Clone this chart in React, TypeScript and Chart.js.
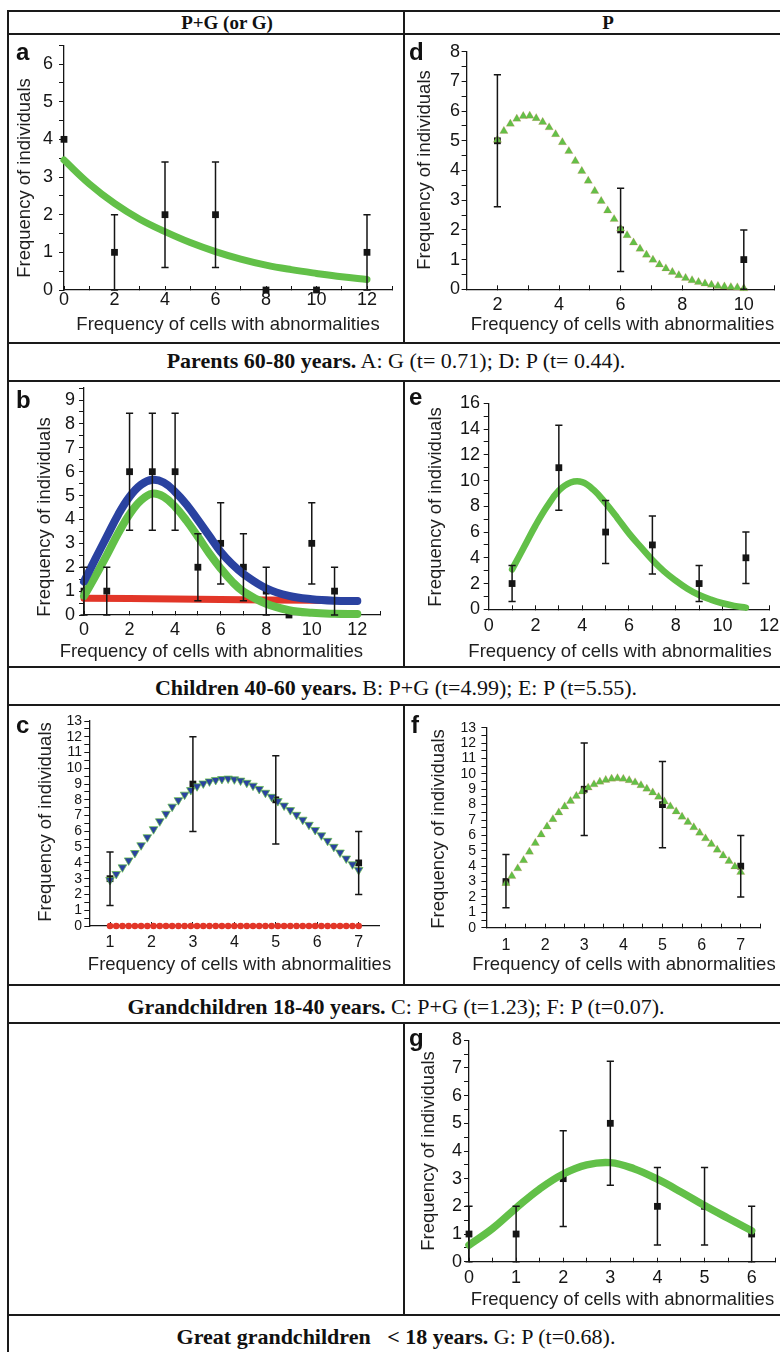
import React, { useEffect, useRef } from 'react';
import { Chart, registerables } from 'chart.js';

Chart.register(...registerables);

const SANS = '"Liberation Sans", Arial, Helvetica, sans-serif';
const SERIF = '"Liberation Serif", "Times New Roman", Times, serif';
const INK = '#151515';
const GREEN = 'rgb(98,192,72)';
const BLUE = 'rgb(42,66,160)';
const RED = 'rgb(226,54,40)';

// ---------- Panel a (P+G or G), parents ----------
const A_X = [0, 2, 4, 6, 8, 10, 12];
const A_Y = [4, 1, 2, 2, 0, 0, 1];
const A_LO = [4, 0, 0.6, 0.6, 0, 0, 0];
const A_HI = [4, 2, 3.4, 3.4, 0, 0, 2];
const A_FIT_X = [0, 1, 2, 3, 4, 5, 6, 7, 8, 9, 10, 11, 12];
const A_FIT_Y = [3.45, 2.82, 2.3, 1.88, 1.55, 1.26, 1.02, 0.82, 0.66, 0.54, 0.44, 0.35, 0.28];

// ---------- Panel d (P), parents ----------
const D_X = [2, 6, 10];
const D_Y = [5, 2, 1];
const D_LO = [2.78, 0.6, 0];
const D_HI = [7.22, 3.4, 2];
const D_FIT_X = [2.0, 2.21, 2.42, 2.63, 2.84, 3.05, 3.26, 3.47, 3.68, 3.89, 4.11, 4.32, 4.53, 4.74, 4.95, 5.16, 5.37, 5.58, 5.79, 6.0,
  6.21, 6.42, 6.63, 6.84, 7.05, 7.26, 7.47, 7.68, 7.89, 8.11, 8.32, 8.53, 8.74, 8.95, 9.16, 9.37, 9.58, 9.79, 10.0];
const D_FIT_Y = [5.03, 5.33, 5.57, 5.74, 5.83, 5.84, 5.76, 5.63, 5.45, 5.22, 4.95, 4.65, 4.32, 3.98, 3.65, 3.31, 2.97, 2.65, 2.36, 2.04,
  1.82, 1.57, 1.36, 1.16, 0.99, 0.83, 0.7, 0.58, 0.47, 0.38, 0.3, 0.24, 0.19, 0.15, 0.11, 0.09, 0.07, 0.06, 0.03];

// ---------- Panel b (P+G), children ----------
const B_X = [0, 1, 2, 3, 4, 5, 6, 7, 8, 9, 10, 11];
const B_Y = [1, 1, 6, 6, 6, 2, 3, 2, 1, 0, 3, 1];
const B_LO = [0, 0, 3.55, 3.55, 3.55, 0.6, 1.3, 0.6, 0, 0, 1.3, 0];
const B_HI = [2, 2, 8.45, 8.45, 8.45, 3.4, 4.7, 3.4, 2, 0, 4.7, 2];
const B_FIT_X = [0, 0.5, 1, 1.5, 2, 2.5, 3, 3.5, 4, 4.5, 5, 5.5, 6, 6.5, 7, 8, 9, 10, 11, 12];
const B_TOTAL_Y = [1.4, 2.35, 3.28, 4.2, 4.95, 5.45, 5.66, 5.55, 5.16, 4.63, 3.98, 3.31, 2.65, 2.13, 1.72, 1.12, 0.8, 0.66, 0.6, 0.59];
const B_P_Y = [0.8, 1.63, 2.51, 3.42, 4.22, 4.8, 5.08, 4.95, 4.53, 3.95, 3.28, 2.58, 1.95, 1.4, 0.98, 0.47, 0.2, 0.09, 0.05, 0.04];
const B_G_X = [0, 4, 8, 12];
const B_G_Y = [0.7, 0.67, 0.63, 0.6];

// ---------- Panel e (P), children ----------
const E_X = [1, 3, 5, 7, 9, 11];
const E_Y = [2, 11, 6, 5, 2, 4];
const E_LO = [0.6, 7.7, 3.55, 2.75, 0.6, 2];
const E_HI = [3.4, 14.3, 8.45, 7.25, 3.4, 6];
const E_FIT_X = [1, 1.5, 2, 2.5, 3, 3.5, 4, 4.5, 5, 5.5, 6, 6.5, 7, 7.5, 8, 8.5, 9, 9.5, 10, 10.5, 11];
const E_FIT_Y = [3.1, 4.8, 6.5, 8.0, 9.22, 9.85, 9.88, 9.25, 8.24, 7.1, 5.9, 4.85, 3.83, 2.95, 2.23, 1.6, 1.11, 0.75, 0.47, 0.27, 0.13];

// ---------- Panel c (P+G), grandchildren ----------
const C_X = [1, 3, 5, 7];
const C_Y = [3, 9, 8, 4];
const C_LO = [1.3, 6, 5.2, 2];
const C_HI = [4.7, 12, 10.8, 6];
const C_XTICKS = [1, 2, 3, 4, 5, 6, 7];
const C_FIT_X = [1.0, 1.15, 1.3, 1.45, 1.6, 1.75, 1.9, 2.05, 2.2, 2.35, 2.5, 2.65, 2.8, 2.95, 3.1, 3.25, 3.4, 3.55, 3.7, 3.85,
  4.0, 4.15, 4.3, 4.45, 4.6, 4.75, 4.9, 5.05, 5.2, 5.35, 5.5, 5.65, 5.8, 5.95, 6.1, 6.25, 6.4, 6.55, 6.7, 6.85, 7.0];
const C_TOTAL_Y = [2.92, 3.3, 3.72, 4.16, 4.63, 5.12, 5.63, 6.14, 6.64, 7.12, 7.57, 7.98, 8.33, 8.62, 8.86, 9.04, 9.17, 9.26, 9.32, 9.35,
  9.3, 9.22, 9.08, 8.9, 8.69, 8.45, 8.19, 7.92, 7.64, 7.35, 7.05, 6.74, 6.42, 6.09, 5.75, 5.4, 5.02, 4.66, 4.28, 3.91, 3.55];
const C_G_Y = [0, 0, 0, 0, 0, 0, 0, 0, 0, 0, 0, 0, 0, 0, 0, 0, 0, 0, 0, 0,
  0, 0, 0, 0, 0, 0, 0, 0, 0, 0, 0, 0, 0, 0, 0, 0, 0, 0, 0, 0, 0];

// ---------- Panel f (P), grandchildren ----------
const F_X = [1, 3, 5, 7];
const F_Y = [3, 9, 8, 4];
const F_LO = [1.3, 6, 5.2, 2];
const F_HI = [4.75, 12, 10.8, 6];
const F_FIT_X = [1.0, 1.15, 1.3, 1.45, 1.6, 1.75, 1.9, 2.05, 2.2, 2.35, 2.5, 2.65, 2.8, 2.95, 3.1, 3.25, 3.4, 3.55, 3.7, 3.85,
  4.0, 4.15, 4.3, 4.45, 4.6, 4.75, 4.9, 5.05, 5.2, 5.35, 5.5, 5.65, 5.8, 5.95, 6.1, 6.25, 6.4, 6.55, 6.7, 6.85, 7.0];
const F_FIT_Y = [2.89, 3.35, 3.85, 4.38, 4.93, 5.5, 6.05, 6.57, 7.05, 7.48, 7.87, 8.23, 8.56, 8.85, 9.1, 9.31, 9.48, 9.6, 9.68, 9.71,
  9.67, 9.58, 9.44, 9.25, 9.03, 8.78, 8.5, 8.2, 7.88, 7.55, 7.21, 6.87, 6.52, 6.17, 5.8, 5.43, 5.06, 4.69, 4.33, 3.97, 3.62];

// ---------- Panel g (P), great grandchildren ----------
const G_X = [0, 1, 2, 3, 4, 5, 6];
const G_Y = [1, 1, 3, 5, 2, 2, 1];
const G_LO = [0, 0, 1.27, 2.76, 0.6, 0.6, 0];
const G_HI = [2, 2, 4.73, 7.24, 3.4, 3.4, 2];
const G_FIT_X = [0, 0.5, 1, 1.5, 2, 2.5, 3, 3.5, 4, 4.5, 5, 5.5, 6];
const G_FIT_Y = [0.6, 1.2, 1.94, 2.63, 3.17, 3.5, 3.58, 3.36, 2.98, 2.52, 2.03, 1.57, 1.12];

// ---------- Texts ----------
const X_TITLE = 'Frequency of cells with abnormalities';
const Y_TITLE = 'Frequency of individuals';
const HEAD_LEFT = 'P+G (or G)';
const HEAD_RIGHT = 'P';
const CAPTIONS = [
  { bold: 'Parents 60-80 years.', rest: ' A: G (t= 0.71); D: P (t= 0.44).', cy: 361 },
  { bold: 'Children 40-60 years.', rest: ' B: P+G (t=4.99); E: P (t=5.55).', cy: 688 },
  { bold: 'Grandchildren 18-40 years.', rest: ' C: P+G (t=1.23); F: P (t=0.07).', cy: 1007 },
  { bold: 'Great grandchildren   < 18 years.', rest: ' G: P (t=0.68).', cy: 1337 },
];

const pts = (xs: number[], ys: number[]) => xs.map((x, i) => ({ x, y: ys[i] }));

const lineDs = (xs: number[], ys: number[], color: string, width: number) => ({
  data: pts(xs, ys), showLine: true, borderColor: color, borderWidth: width, pointRadius: 0,
  tension: 0.4, borderCapStyle: 'round', borderJoinStyle: 'round', clip: false, fill: false,
});
const markerDs = (xs: number[], ys: number[], style: string, radius: number, fillC: string, stroke: string, bw: number, rot = 0) => ({
  data: pts(xs, ys), showLine: false, pointStyle: style, pointRadius: radius, pointBackgroundColor: fillC,
  pointBorderColor: stroke, pointBorderWidth: bw, pointRotation: rot, clip: false,
});
const dataDs = (xs: number[], ys: number[]) => markerDs(xs, ys, 'rect', 4.8, INK, INK, 0);

const makeErrorBars = (xs: number[], lo: number[], hi: number[]) => ({
  id: 'errbars',
  afterDatasetsDraw(chart: any) {
    const ctx = chart.ctx;
    const sx = chart.scales.x;
    const sy = chart.scales.y;
    ctx.save();
    ctx.strokeStyle = INK;
    ctx.lineWidth = 1.5;
    for (let i = 0; i < xs.length; i++) {
      if (hi[i] - lo[i] <= 0) continue;
      const px = sx.getPixelForValue(xs[i]);
      const p1 = sy.getPixelForValue(lo[i]);
      const p2 = sy.getPixelForValue(hi[i]);
      ctx.beginPath();
      ctx.moveTo(px, p1); ctx.lineTo(px, p2);
      ctx.moveTo(px - 3.6, p1); ctx.lineTo(px + 3.6, p1);
      ctx.moveTo(px - 3.6, p2); ctx.lineTo(px + 3.6, p2);
      ctx.stroke();
    }
    ctx.restore();
  },
});

interface AxisCfg { min: number; max: number; step: number; every: number; font: number; ticks?: number[] }
interface PanelCfg {
  letter: string; letterLeft: number; letterBase: number;
  cell: number[]; area: number[];
  x: AxisCfg; y: AxisCfg;
  xLabelY: number; yLabelRight: number;
  xTitle: number[]; yTitle: number[];
  datasets: () => any[];
  err: number[][];
}

const PANELS: PanelCfg[] = [
  {
    letter: 'a', letterLeft: 16, letterBase: 60,
    cell: [9, 35, 403, 342], area: [64, 45.2, 392.25, 290],
    x: { min: 0, max: 13, step: 1, every: 2, font: 18 }, y: { min: 0, max: 6.5, step: 0.5, every: 1, font: 18 },
    xLabelY: 300, yLabelRight: 53, xTitle: [228, 323.7], yTitle: [23.7, 177.5],
    datasets: () => [lineDs(A_FIT_X, A_FIT_Y, GREEN, 7), dataDs(A_X, A_Y)],
    err: [A_X, A_LO, A_HI],
  },
  {
    letter: 'd', letterLeft: 409, letterBase: 60,
    cell: [405, 35, 780, 342], area: [466.6, 51.7, 777.8, 289.3],
    x: { min: 1, max: 11, step: 1, every: 2, font: 18 }, y: { min: 0, max: 8, step: 0.5, every: 1, font: 18 },
    xLabelY: 305, yLabelRight: 460, xTitle: [622.5, 323.7], yTitle: [424, 170],
    datasets: () => [markerDs(D_FIT_X, D_FIT_Y, 'triangle', 4.8, GREEN, 'rgba(226,90,60,0.3)', 0.6), dataDs(D_X, D_Y)],
    err: [D_X, D_LO, D_HI],
  },
  {
    letter: 'b', letterLeft: 16, letterBase: 408,
    cell: [9, 382, 403, 666], area: [84, 388.1, 380.1, 615],
    x: { min: 0, max: 13, step: 1, every: 2, font: 18 }, y: { min: 0, max: 9.5, step: 0.5, every: 1, font: 18 },
    xLabelY: 630, yLabelRight: 75, xTitle: [211.3, 651], yTitle: [44, 517],
    datasets: () => [
      lineDs(B_FIT_X, B_TOTAL_Y, BLUE, 8),
      lineDs(B_FIT_X, B_P_Y, GREEN, 8),
      lineDs(B_G_X, B_G_Y, RED, 7),
      dataDs(B_X, B_Y),
    ],
    err: [B_X, B_LO, B_HI],
  },
  {
    letter: 'e', letterLeft: 409, letterBase: 405,
    cell: [405, 382, 780, 666], area: [488.7, 403.3, 769.3, 609.3],
    x: { min: 0, max: 12, step: 1, every: 2, font: 18 }, y: { min: 0, max: 16, step: 1, every: 2, font: 18 },
    xLabelY: 626, yLabelRight: 480, xTitle: [620, 650.7], yTitle: [435, 507],
    datasets: () => [lineDs(E_FIT_X, E_FIT_Y, GREEN, 6.5), dataDs(E_X, E_Y)],
    err: [E_X, E_LO, E_HI],
  },
  {
    letter: 'c', letterLeft: 16, letterBase: 733,
    cell: [9, 706, 403, 984], area: [89.3, 721, 379.4, 926],
    x: { min: 0.5, max: 7.5, step: 1, every: 1, font: 16, ticks: C_XTICKS }, y: { min: 0, max: 13, step: 0.5, every: 1, font: 14 },
    xLabelY: 943, yLabelRight: 82, xTitle: [239.5, 963.7], yTitle: [45, 822],
    datasets: () => [
      markerDs(C_FIT_X, C_TOTAL_Y, 'triangle', 5, BLUE, 'rgba(100,190,72,0.9)', 0.8, 180),
      markerDs(C_FIT_X, C_G_Y, 'circle', 3.3, RED, RED, 0),
      dataDs(C_X, C_Y),
    ],
    err: [C_X, C_LO, C_HI],
  },
  {
    letter: 'f', letterLeft: 411, letterBase: 733,
    cell: [405, 706, 780, 984], area: [486.4, 727.7, 760.3, 927.7],
    x: { min: 0.5, max: 7.5, step: 0.5, every: 1, font: 16 }, y: { min: 0, max: 13, step: 0.5, every: 1, font: 14 },
    xLabelY: 946, yLabelRight: 476, xTitle: [624, 963.7], yTitle: [438, 828.5],
    datasets: () => [markerDs(F_FIT_X, F_FIT_Y, 'triangle', 4.8, GREEN, 'rgba(226,90,60,0.3)', 0.6), dataDs(F_X, F_Y)],
    err: [F_X, F_LO, F_HI],
  },
  {
    letter: 'g', letterLeft: 409, letterBase: 1046,
    cell: [405, 1024, 780, 1314], area: [469, 1040.3, 775.9, 1261.7],
    x: { min: 0, max: 6.5, step: 0.5, every: 1, font: 18 }, y: { min: 0, max: 8, step: 0.5, every: 1, font: 18 },
    xLabelY: 1278.5, yLabelRight: 462, xTitle: [622.5, 1298.7], yTitle: [428, 1151],
    datasets: () => [lineDs(G_FIT_X, G_FIT_Y, GREEN, 7.5), dataDs(G_X, G_Y)],
    err: [G_X, G_LO, G_HI],
  },
];

function Panel({ cfg }: { cfg: PanelCfg }) {
  const ref = useRef<HTMLCanvasElement | null>(null);
  const [L, T, R, B] = cfg.cell;
  const [aL, aT, aR, aB] = cfg.area;
  const W = R - L;
  const H = B - T;

  useEffect(() => {
    const canvas = ref.current;
    if (!canvas) return;
    const xTl = -4;
    const yTl = 5;
    const xPad = cfg.xLabelY - aB - xTl - (cfg.x.font * 1.2) / 2;
    const yPad = aL - cfg.yLabelRight - yTl;
    const mkTicks = (ax: AxisCfg, pad: number) => ({
      stepSize: ax.step, autoSkip: false, padding: pad,
      color: INK, maxRotation: 0, minRotation: 0,
      font: { family: SANS, size: ax.font, lineHeight: 1.2 },
      callback: (v: any) => {
        const r = Number(v) / ax.every;
        return Math.abs(r - Math.round(r)) < 1e-6 ? String(Math.round(Number(v) * 100) / 100) : '';
      },
    });
    const fixedTicks = (ax: AxisCfg) => (s: any) => {
      if (ax.ticks) s.ticks = ax.ticks.map((v) => ({ value: v }));
    };
    const zeroPad = (s: any) => { s.paddingLeft = 0; s.paddingRight = 0; s.paddingTop = 0; s.paddingBottom = 0; };
    const [ex, elo, ehi] = cfg.err;
    const chart = new Chart(canvas, {
      type: 'scatter',
      data: { datasets: cfg.datasets() },
      options: {
        responsive: false,
        animation: false,
        events: [],
        layout: { padding: { left: 0, top: aT - T, right: R - aR, bottom: 0 } },
        plugins: { legend: { display: false }, tooltip: { enabled: false } },
        scales: {
          x: {
            type: 'linear', position: 'bottom', min: cfg.x.min, max: cfg.x.max,
            ticks: mkTicks(cfg.x, xPad),
            afterBuildTicks: fixedTicks(cfg.x),
            grid: { display: true, drawOnChartArea: false, drawTicks: true, tickLength: xTl, tickColor: INK, tickWidth: 1 },
            border: { display: true, color: INK, width: 1.3 },
            afterFit: (s: any) => { s.height = B - aB; zeroPad(s); },
          },
          y: {
            type: 'linear', position: 'left', min: cfg.y.min, max: cfg.y.max,
            ticks: mkTicks(cfg.y, yPad),
            afterBuildTicks: fixedTicks(cfg.y),
            grid: { display: true, drawOnChartArea: false, drawTicks: true, tickLength: yTl, tickColor: INK, tickWidth: 1 },
            border: { display: true, color: INK, width: 1.3 },
            afterFit: (s: any) => { s.width = aL - L; zeroPad(s); },
          },
        },
      } as any,
      plugins: [makeErrorBars(ex, elo, ehi)],
    });
    return () => chart.destroy();
  }, []);

  const titleStyle: React.CSSProperties = {
    position: 'absolute', fontFamily: SANS, fontSize: 18.5, color: '#1e1e1e', lineHeight: '22px', height: 22,
    textAlign: 'center', whiteSpace: 'nowrap',
  };
  return (
    <>
      <canvas ref={ref} width={W} height={H} style={{ position: 'absolute', left: L, top: T, width: W, height: H }} />
      <div style={{ ...titleStyle, left: cfg.xTitle[0] - 200, top: cfg.xTitle[1] - 11, width: 400 }}>{X_TITLE}</div>
      <div style={{ ...titleStyle, left: cfg.yTitle[0] - 150, top: cfg.yTitle[1] - 11, width: 300, transform: 'rotate(-90deg)' }}>{Y_TITLE}</div>
      <div style={{ position: 'absolute', left: cfg.letterLeft, top: cfg.letterBase - 20.3, fontFamily: SANS, fontWeight: 'bold', fontSize: 24, lineHeight: '24px', color: '#111' }}>{cfg.letter}</div>
    </>
  );
}

const H_LINES = [10, 33, 342, 380, 666, 704, 984, 1022, 1314];
const V_MID = [[10, 344], [380, 668], [704, 986], [1022, 1316]];

export default function App() {
  return (
    <div style={{ position: 'absolute', left: 0, top: 0, width: 780, height: 1352, background: '#fff', overflow: 'hidden' }}>
      {H_LINES.map((y) => (
        <div key={'h' + y} style={{ position: 'absolute', left: 7, top: y, width: 780, height: 2, background: '#1a1a1a' }} />
      ))}
      <div style={{ position: 'absolute', left: 7, top: 10, width: 2, height: 1342, background: '#1a1a1a' }} />
      {V_MID.map(([a, b]) => (
        <div key={'v' + a} style={{ position: 'absolute', left: 403, top: a, width: 2, height: b - a, background: '#1a1a1a' }} />
      ))}
      <div style={{ position: 'absolute', left: 227 - 150, width: 300, top: 23 - 12, height: 24, lineHeight: '24px', textAlign: 'center', fontFamily: SERIF, fontWeight: 'bold', fontSize: 19, color: '#111' }}>{HEAD_LEFT}</div>
      <div style={{ position: 'absolute', left: 608 - 150, width: 300, top: 23 - 12, height: 24, lineHeight: '24px', textAlign: 'center', fontFamily: SERIF, fontWeight: 'bold', fontSize: 19, color: '#111' }}>{HEAD_RIGHT}</div>
      {CAPTIONS.map((c) => (
        <div key={c.bold} style={{ position: 'absolute', left: 0, width: 792, top: c.cy - 14, height: 28, lineHeight: '28px', textAlign: 'center', fontFamily: SERIF, fontSize: 22, color: '#111', whiteSpace: 'pre' }}>
          <b>{c.bold}</b>{c.rest}
        </div>
      ))}
      {PANELS.map((p) => <Panel key={p.letter} cfg={p} />)}
    </div>
  );
}
